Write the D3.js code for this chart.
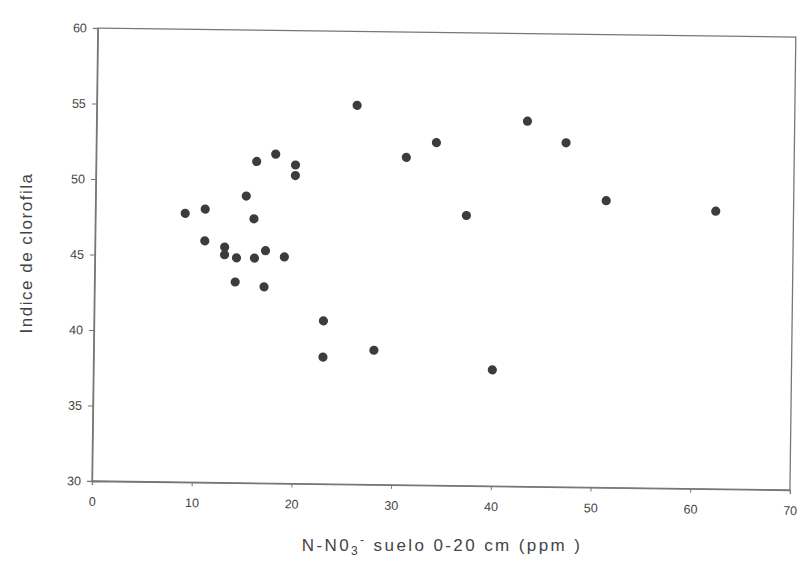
<!DOCTYPE html>
<html>
<head>
<meta charset="utf-8">
<script src="https://cdn.jsdelivr.net/npm/d3@7"></script>
<style>
  html, body { margin: 0; padding: 0; background: #fff; }
  svg { display: block; }
  text { font-family: "Liberation Sans", Arial, sans-serif; fill: #444; }
</style>
</head>
<body>
<svg id="chart" width="800" height="561"></svg>
<script>
// Soil nitrate (ppm, 0-20 cm) vs chlorophyll index
const nitrate = [9.0, 11.0, 15.1, 16.1, 18.0, 20.0, 20.0, 15.9, 11.0, 13.0,
                 13.0, 14.2, 16.0, 17.1, 19.0, 14.1, 17.0, 26.1, 31.1, 34.1,
                 43.2, 47.1, 37.2, 51.2, 62.2, 23.0, 23.0, 28.1, 40.0];
const clorofila = [47.8, 48.1, 49.0, 51.3, 51.8, 51.1, 50.4, 47.5, 46.0, 45.6,
                   45.1, 44.9, 44.9, 45.4, 45.0, 43.3, 43.0, 55.1, 51.7, 52.7,
                   54.2, 52.8, 47.9, 49.0, 48.4, 40.8, 38.4, 38.9, 37.7];
const xTicks = [0, 10, 20, 30, 40, 50, 60, 70];
const yTicks = [30, 35, 40, 45, 50, 55, 60];

const svg = d3.select("#chart");
const W = 698, H = 453;
const x = d3.scaleLinear().domain([0, 70]).range([0, W]);
const y = d3.scaleLinear().domain([30, 60]).range([H, 0]);

// whole plot sits slightly tilted on the page
const g = svg.append("g")
  .attr("transform", "rotate(0.74,92,481) translate(92,28)");

// frame
g.append("rect")
  .attr("x", 0).attr("y", 0).attr("width", W).attr("height", H)
  .attr("fill", "none").attr("stroke", "#777").attr("stroke-width", 1.3);

const xAxis = g.append("g")
  .attr("transform", `translate(0,${H})`)
  .call(d3.axisBottom(x).tickValues(xTicks).tickSize(4).tickPadding(12));
const yAxis = g.append("g")
  .call(d3.axisLeft(y).tickValues(yTicks).tickSize(5).tickPadding(6));

[xAxis, yAxis].forEach(a => {
  a.select(".domain").attr("stroke", "#777").attr("stroke-width", 1.3);
  a.selectAll(".tick line").attr("stroke", "#777");
  a.selectAll(".tick text").attr("font-size", 12.5).attr("fill", "#444")
    .style("font-family", "'Liberation Sans', Arial, sans-serif");
});

// points
g.append("g").selectAll("circle")
  .data(nitrate.map((v, i) => [v, clorofila[i]]))
  .join("circle")
  .attr("cx", d => x(d[0]))
  .attr("cy", d => y(d[1]))
  .attr("r", 4.6)
  .attr("fill", "#3c3c3c");

// axis titles
svg.append("text")
  .attr("transform", "translate(32,253) rotate(-90)")
  .attr("text-anchor", "middle")
  .attr("font-size", 17)
  .attr("letter-spacing", 1.5)
  .text("Indice de clorofila");

const xt = svg.append("text")
  .attr("x", 442).attr("y", 551)
  .attr("text-anchor", "middle")
  .attr("font-size", 17)
  .attr("letter-spacing", 2.4);
xt.append("tspan").text("N-N0");
xt.append("tspan").attr("font-size", 12).attr("dy", 4).text("3");
xt.append("tspan").attr("font-size", 12).attr("dy", -11).text("-");
xt.append("tspan").attr("dy", 7).text(" suelo 0-20 cm (ppm )");
</script>
</body>
</html>
